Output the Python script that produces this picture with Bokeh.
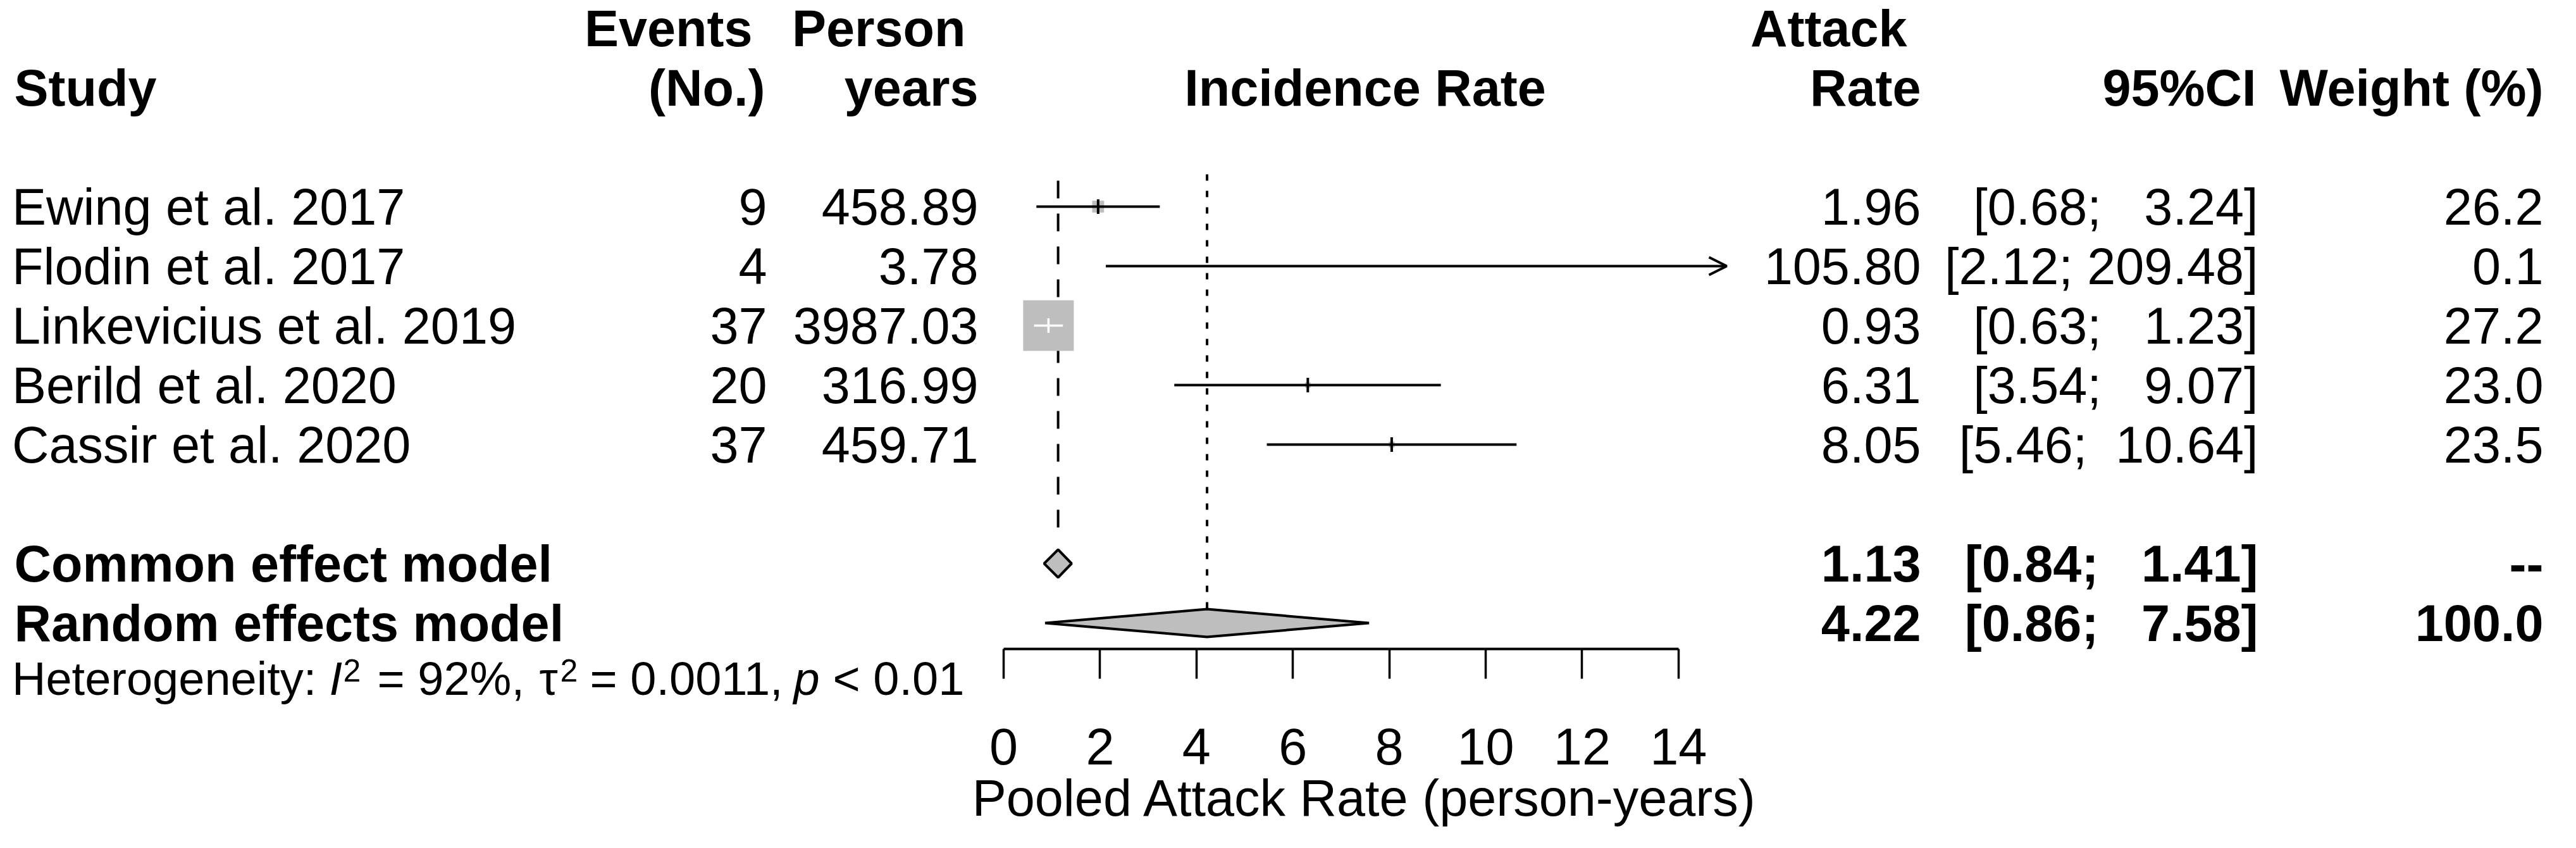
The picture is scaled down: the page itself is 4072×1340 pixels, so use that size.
import numpy as np
from bokeh.plotting import figure
from bokeh.models import Range1d, LinearAxis, FixedTicker, Arrow, OpenHead, ColumnDataSource
from bokeh.core.properties import value
from bokeh.embed import file_html
from bokeh.resources import INLINE

# ------------------------------------------------------------------ data
studies = ["Ewing et al. 2017", "Flodin et al. 2017", "Linkevicius et al. 2019",
           "Berild et al. 2020", "Cassir et al. 2020"]
events = [9, 4, 37, 20, 37]
person_years = [458.89, 3.78, 3987.03, 316.99, 459.71]
attack_rate = [1.96, 105.80, 0.93, 6.31, 8.05]
ci_lower = [0.68, 2.12, 0.63, 3.54, 5.46]
ci_upper = [3.24, 209.48, 1.23, 9.07, 10.64]
weight = [26.2, 0.1, 27.2, 23.0, 23.5]

pooled_models = ["Common effect model", "Random effects model"]
pooled_rate = [1.13, 4.22]
pooled_lower = [0.84, 0.86]
pooled_upper = [1.41, 7.58]
pooled_weight = ["--", "100.0"]

het_i2 = "92%"
het_tau2 = "0.0011"
het_p = "< 0.01"

x_ticks = [0, 2, 4, 6, 8, 10, 12, 14]
x_limits = [0, 15]
x_label = "Pooled Attack Rate (person-years)"
plot_title = "Incidence Rate"
header_line1 = ["Events", "Person", "Attack"]
header_line2 = ["Study", "(No.)", "years", "Rate", "95%CI", "Weight (%)"]

# ------------------------------------------------------------------ layout
W, H = 4056, 1324
M = 8                       # page margin (reference px = figure px + M)
X0_REF, PXU = 1594.0, 76.2  # x=0 position and px per unit
ROW1_REF, ROW_PX = 334.0, 94.0
FS, FS_HET, FS_SUP = 81, 74, 50
FONT = "Liberation Sans"
GREY = "#BEBEBE"


def px2x(px):
    return (px - X0_REF) / PXU


def py2y(py):
    return 1 + (py - ROW1_REF) / ROW_PX


DH = 22 / ROW_PX                # diamond half height
TH = 11.5 / ROW_PX              # estimate tick half height
SQUARE_MAX_PX = 80
NB = "\u00a0"

p = figure(width=W, height=H,
           x_range=Range1d(px2x(M), px2x(M + W)),
           y_range=Range1d(py2y(M + H), py2y(M)),
           output_backend="svg", toolbar_location=None,
           x_axis_type=None, y_axis_type=None, min_border=0,
           outline_line_color=None, background_fill_color="white",
           border_fill_color="white")
p.grid.visible = False


def put_text(xs, ys, texts, align="left", style="normal", size=FS):
    src = ColumnDataSource(dict(x=list(xs), y=list(ys), t=list(texts)))
    p.text(x="x", y="y", text="t", source=src, text_font=value(FONT),
           text_font_size=value(f"{size}px"), text_font_style=style,
           text_align=align, text_baseline="middle", text_color="black")


n = len(studies)
rows = np.arange(1, n + 1)
prow = np.array([n + 2, n + 3])

# ------------------------------------------------------------------ reference lines
p.segment(x0=[pooled_rate[0]], x1=[pooled_rate[0]], y0=[py2y(293)], y1=[py2y(845)],
          line_color="black", line_width=4, line_dash="28 24")
p.segment(x0=[pooled_rate[1]], x1=[pooled_rate[1]], y0=[py2y(283)], y1=[prow[1] - DH],
          line_color="black", line_width=4, line_dash="10 16")

# ------------------------------------------------------------------ study marks
est = np.array(attack_rate)
lo = np.array(ci_lower)
up = np.array(ci_upper)
se = (up - lo) / (2 * 1.959964)
w_fixed = 1 / se ** 2
sq_px = SQUARE_MAX_PX * np.sqrt(w_fixed / w_fixed.max())
in_rng = (est >= x_limits[0]) & (est <= x_limits[1])
half = sq_px / 2 / PXU
inside = ((est - lo) <= half) & ((up - est) <= half)

p.scatter(x=est[in_rng], y=rows[in_rng], size=sq_px[in_rng], marker="square",
          fill_color=GREY, line_color=None)

for i in range(n):
    col = "white" if inside[i] else "black"
    lw = 3.5 if inside[i] else 4
    x_a = max(lo[i], x_limits[0])
    x_b = min(up[i], x_limits[1])
    if up[i] > x_limits[1]:
        p.add_layout(Arrow(x_start=x_a, y_start=rows[i], x_end=x_b, y_end=rows[i],
                           line_width=4, line_color="black",
                           end=OpenHead(size=28, line_width=4, line_color="black")))
    else:
        p.segment(x0=[x_a], x1=[x_b], y0=[rows[i]], y1=[rows[i]], line_color=col, line_width=lw)
    if in_rng[i]:
        p.segment(x0=[est[i]], x1=[est[i]], y0=[rows[i] - TH], y1=[rows[i] + TH],
                  line_color=col, line_width=lw)

# ------------------------------------------------------------------ diamonds
xs = [[pooled_lower[k], pooled_rate[k], pooled_upper[k], pooled_rate[k]] for k in range(2)]
ys = [[prow[k], prow[k] - DH, prow[k], prow[k] + DH] for k in range(2)]
p.patches(xs=xs, ys=ys, fill_color=GREY, line_color="black", line_width=4)

# ------------------------------------------------------------------ axis
axis = LinearAxis(ticker=FixedTicker(ticks=x_ticks), bounds=(min(x_ticks), max(x_ticks)),
                  fixed_location=py2y(1033))
axis.axis_line_width = 4
axis.axis_line_color = "black"
axis.major_tick_in = 0
axis.major_tick_out = 47
axis.major_tick_line_width = 3.5
axis.major_tick_line_color = "black"
axis.minor_tick_line_color = None
axis.major_label_text_font = FONT
axis.major_label_text_font_size = f"{FS}px"
axis.major_label_text_color = "black"
axis.major_label_standoff = 78
p.add_layout(axis, "below")

put_text([sum(x_limits) / 2], [py2y(1268)], [x_label], align="center")

# ------------------------------------------------------------------ headers
put_text([px2x(1197), px2x(1534), px2x(3022)], [-2] * 3, header_line1,
         align="right", style="bold")
put_text([px2x(30)], [-1], header_line2[:1], align="left", style="bold")
put_text([px2x(1217), px2x(1554), px2x(3044), px2x(3574), px2x(4028)], [-1] * 5,
         header_line2[1:], align="right", style="bold")
put_text([sum(x_limits) / 2], [-1], [plot_title], align="center", style="bold")

# ------------------------------------------------------------------ table columns
lo_w = max(len(f"{v:.2f}") for v in ci_lower + pooled_lower)
up_w = max(len(f"{v:.2f}") for v in ci_upper + pooled_upper)


def fmt_ci(a, b):
    return "[" + f"{a:.2f}".rjust(lo_w, NB) + ";" + NB + f"{b:.2f}".rjust(up_w, NB) + "]"


put_text([px2x(26.5)] * n, rows, studies)
put_text([px2x(1220)] * n, rows, [str(e) for e in events], align="right")
put_text([px2x(1554)] * n, rows, [f"{v:.2f}" for v in person_years], align="right")
put_text([px2x(3044)] * n, rows, [f"{v:.2f}" for v in attack_rate], align="right")
put_text([px2x(3577)] * n, rows, [fmt_ci(a, b) for a, b in zip(ci_lower, ci_upper)], align="right")
put_text([px2x(4028)] * n, rows, [f"{v:.1f}" for v in weight], align="right")

put_text([px2x(30)] * 2, prow, pooled_models, style="bold")
put_text([px2x(3044)] * 2, prow, [f"{v:.2f}" for v in pooled_rate], align="right", style="bold")
put_text([px2x(3577)] * 2, prow, [fmt_ci(a, b) for a, b in zip(pooled_lower, pooled_upper)],
         align="right", style="bold")
put_text([px2x(4028)] * 2, prow, pooled_weight, align="right", style="bold")

# ------------------------------------------------------------------ heterogeneity
hc = py2y(1080)
hs = py2y(1067)
put_text([px2x(26.5)], [hc], ["Heterogeneity:"], size=FS_HET)
put_text([px2x(528)], [hc], ["I"], style="italic", size=FS_HET)
put_text([px2x(550)], [hs], ["2"], size=FS_SUP)
put_text([px2x(604)], [hc], ["= " + het_i2 + ","], size=FS_HET)
put_text([px2x(860)], [hc], ["\u03c4"], size=FS_HET)
put_text([px2x(893)], [hs], ["2"], size=FS_SUP)
put_text([px2x(940)], [hc], ["= " + het_tau2 + ","], size=FS_HET)
put_text([px2x(1262)], [hc], ["p"], style="italic", size=FS_HET)
put_text([px2x(1324)], [hc], [het_p], size=FS_HET)

open("out.html", "w").write(file_html(p, INLINE))
